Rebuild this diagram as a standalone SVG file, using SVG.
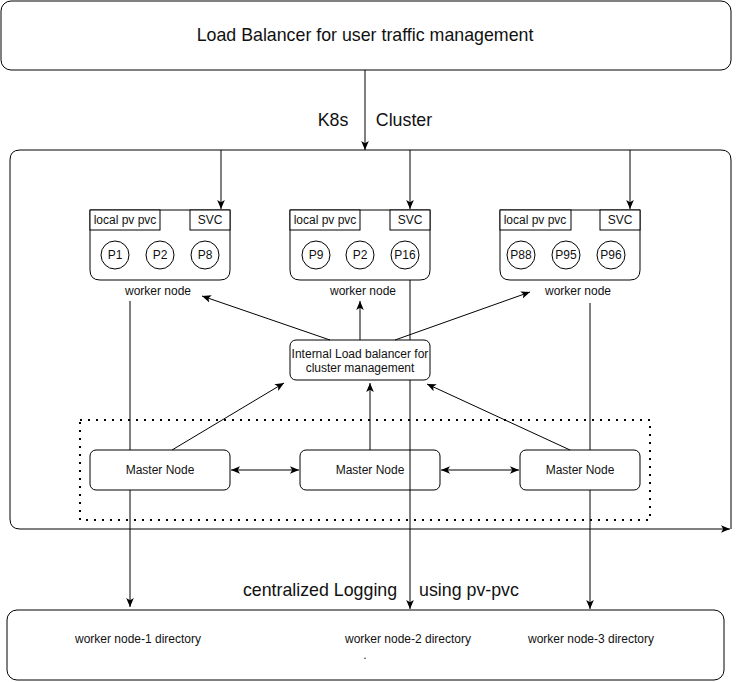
<svg xmlns="http://www.w3.org/2000/svg" width="739" height="682" viewBox="0 0 739 682">
<style>
.box{fill:#fff;stroke:#000;stroke-width:1}
.ln{fill:none;stroke:#000;stroke-width:1}
.t{font-family:"Liberation Sans",Arial,sans-serif;fill:#111;text-anchor:middle}
.s12{font-size:12px}
.s16{font-size:17.8px}
</style>
<defs>
<marker id="ah" markerUnits="userSpaceOnUse" markerWidth="10" markerHeight="10" viewBox="0 0 10 10" refX="9" refY="5" orient="auto">
<path d="M0,1.2 L9,5 L0,8.8 L2.2,5 Z" fill="#000"/>
</marker>
<marker id="as" markerUnits="userSpaceOnUse" markerWidth="10" markerHeight="10" viewBox="0 0 10 10" refX="1" refY="5" orient="auto">
<path d="M10,1.2 L1,5 L10,8.8 L7.8,5 Z" fill="#000"/>
</marker>
</defs>
<rect width="739" height="682" fill="#fff"/>

<g id="top-lb">
<rect class="box" x="1" y="1" width="730" height="69" rx="10"/>
<text class="t s16" x="365" y="41">Load Balancer for user traffic management</text>
</g>

<g id="cluster">
<path class="ln" d="M731,529 V160 Q731,150 721,150 H20 Q10,150 10,160 V519 Q10,529 20,529 H730" marker-end="url(#ah)"/>
</g>

<g id="labels">
<text class="t s16" x="333" y="126">K8s</text>
<text class="t s16" x="404" y="126">Cluster</text>
<text class="t s16" x="320" y="596">centralized Logging</text>
<text class="t s16" x="469" y="596">using pv-pvc</text>
</g>

<g id="master-group">
<rect x="80" y="420" width="570" height="100" fill="none" stroke="#000" stroke-width="2" stroke-dasharray="2 6"/>
</g>

<g id="worker1">
<path class="box" d="M90,210 H230 V270 Q230,280 220,280 H100 Q90,280 90,270 Z"/>
<rect class="box" x="90" y="210" width="70" height="20"/>
<rect class="box" x="190" y="210" width="40" height="20"/>
<text class="t s12" x="125" y="224">local pv pvc</text>
<text class="t s12" x="210" y="224">SVC</text>
<circle class="box" cx="115" cy="255" r="14"/><text class="t s12" x="115" y="259">P1</text>
<circle class="box" cx="160" cy="255" r="14"/><text class="t s12" x="160" y="259">P2</text>
<circle class="box" cx="205" cy="255" r="14"/><text class="t s12" x="205" y="259">P8</text>
<text class="t s12" x="158" y="295">worker node</text>
</g>

<g id="worker2">
<path class="box" d="M290,210 H430 V270 Q430,280 420,280 H300 Q290,280 290,270 Z"/>
<rect class="box" x="290" y="210" width="70" height="20"/>
<rect class="box" x="390" y="210" width="40" height="20"/>
<text class="t s12" x="325" y="224">local pv pvc</text>
<text class="t s12" x="410" y="224">SVC</text>
<circle class="box" cx="316" cy="255" r="14"/><text class="t s12" x="316" y="259">P9</text>
<circle class="box" cx="360" cy="255" r="14"/><text class="t s12" x="360" y="259">P2</text>
<circle class="box" cx="405" cy="255" r="14"/><text class="t s12" x="405" y="259">P16</text>
<text class="t s12" x="363" y="295">worker node</text>
</g>

<g id="worker3">
<path class="box" d="M500,210 H640 V270 Q640,280 630,280 H510 Q500,280 500,270 Z"/>
<rect class="box" x="500" y="210" width="71" height="20"/>
<rect class="box" x="600" y="210" width="40" height="20"/>
<text class="t s12" x="535" y="224">local pv pvc</text>
<text class="t s12" x="620" y="224">SVC</text>
<circle class="box" cx="521" cy="255" r="14"/><text class="t s12" x="521" y="259">P88</text>
<circle class="box" cx="566" cy="255" r="14"/><text class="t s12" x="566" y="259">P95</text>
<circle class="box" cx="611" cy="255" r="14"/><text class="t s12" x="611" y="259">P96</text>
<text class="t s12" x="578" y="295">worker node</text>
</g>

<g id="internal-lb">
<rect class="box" x="290" y="340" width="140" height="40" rx="6"/>
<text class="t s12" x="360" y="358">Internal Load balancer for</text>
<text class="t s12" x="360" y="372">cluster management</text>
</g>

<g id="master1">
<rect class="box" x="90" y="450" width="140" height="40" rx="6"/>
<text class="t s12" x="160" y="474">Master Node</text>
</g>
<g id="master2">
<rect class="box" x="300" y="450" width="140" height="40" rx="6"/>
<text class="t s12" x="370" y="474">Master Node</text>
</g>
<g id="master3">
<rect class="box" x="520" y="450" width="120" height="40" rx="6"/>
<text class="t s12" x="580" y="474">Master Node</text>
</g>

<g id="log-store">
<rect class="box" x="7" y="610" width="717" height="70" rx="10"/>
<text class="t s12" x="138" y="643">worker node-1 directory</text>
<text class="t s12" x="408" y="643">worker node-2 directory</text>
<text class="t s12" x="591" y="643">worker node-3 directory</text>
<text class="t s12" x="365" y="659" fill="#666">.</text>
</g>

<g id="connectors">
<path class="ln" d="M365,70 V150" marker-end="url(#ah)"/>
<path class="ln" d="M221,150 V209" marker-end="url(#ah)"/>
<path class="ln" d="M410,150 V209" marker-end="url(#ah)"/>
<path class="ln" d="M630,150 V209" marker-end="url(#ah)"/>
<path class="ln" d="M330,340 L202,296" marker-end="url(#ah)"/>
<path class="ln" d="M360,340 V301" marker-end="url(#ah)"/>
<path class="ln" d="M395,340 L530,292" marker-end="url(#ah)"/>
<path class="ln" d="M172,450 L284,383" marker-end="url(#ah)"/>
<path class="ln" d="M370,450 V383" marker-end="url(#ah)"/>
<path class="ln" d="M570,450 L427,384" marker-end="url(#ah)"/>
<path class="ln" d="M231,470 H299" marker-start="url(#as)" marker-end="url(#ah)"/>
<path class="ln" d="M441,470 H519" marker-start="url(#as)" marker-end="url(#ah)"/>
<path class="ln" d="M130,301 V450 M130,490 V607" marker-end="url(#ah)"/>
<path class="ln" d="M410,280 V340 M410,380 V609" marker-end="url(#ah)"/>
<path class="ln" d="M590,303 V450 M590,490 V609" marker-end="url(#ah)"/>
</g>
</svg>
